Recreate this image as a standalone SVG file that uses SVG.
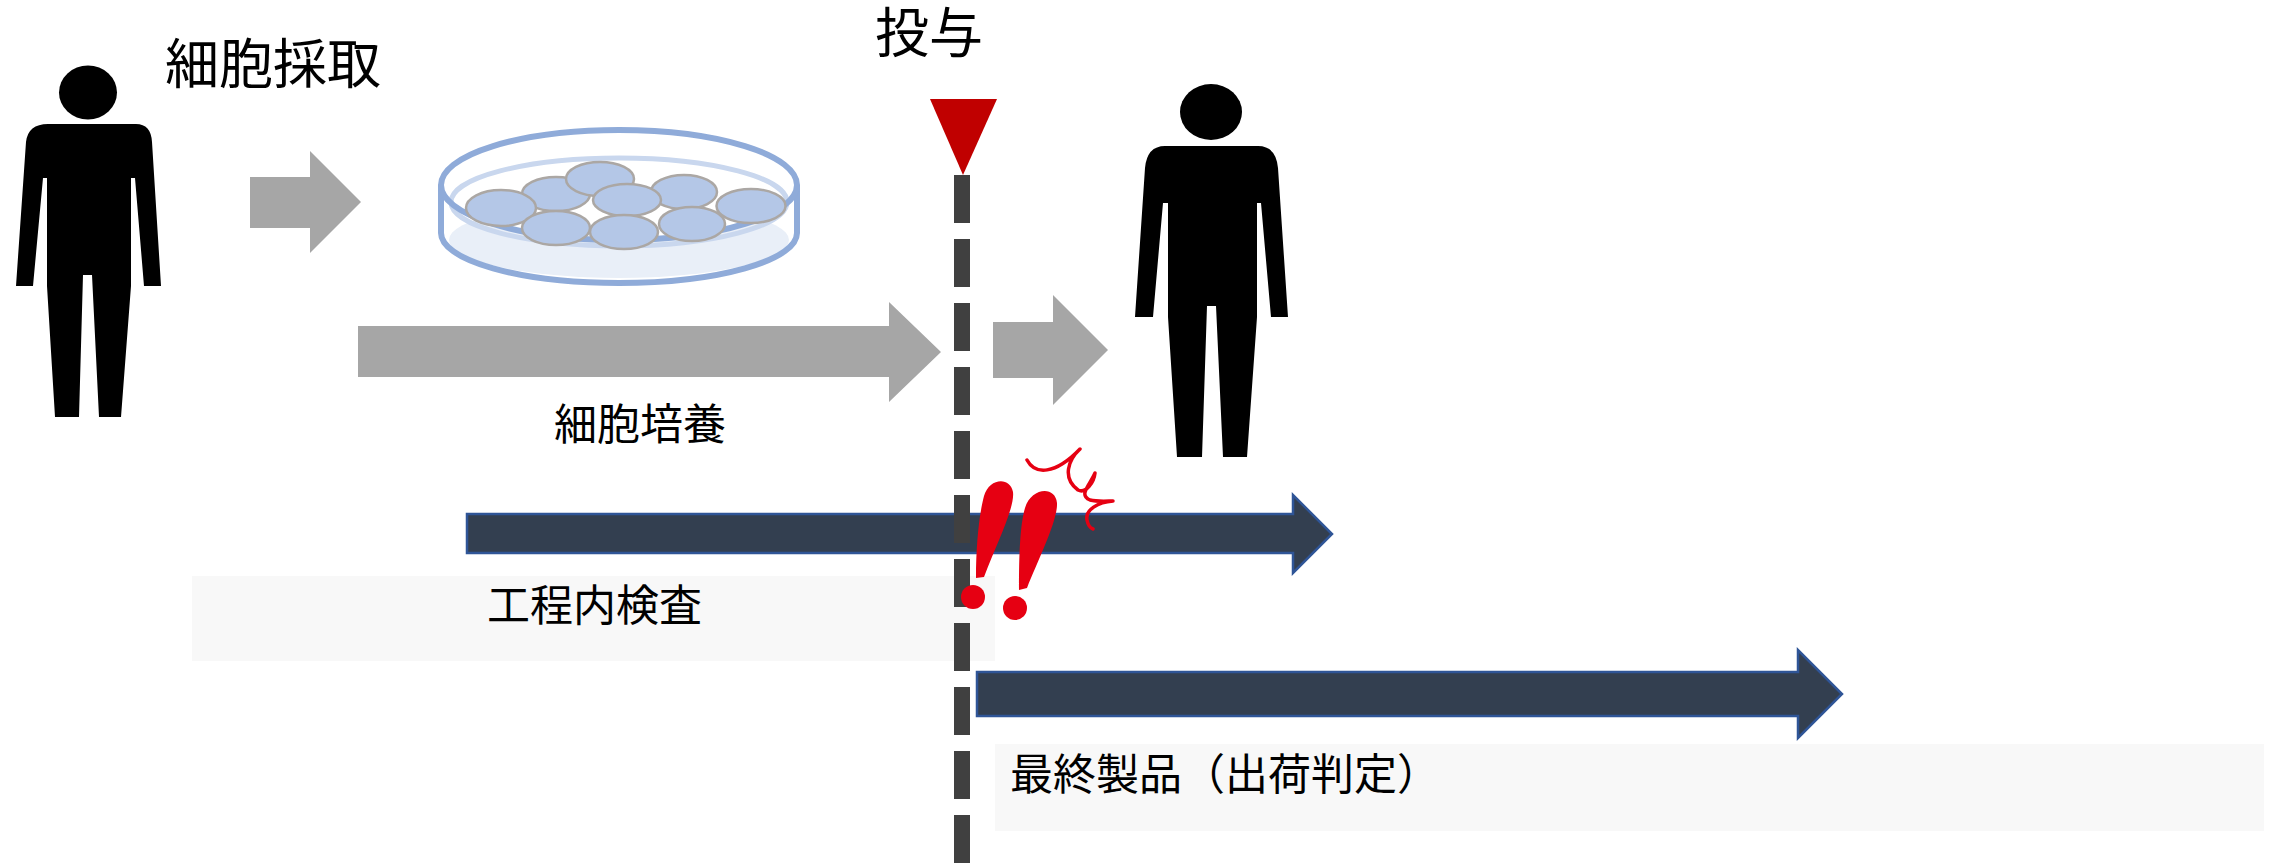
<svg xmlns="http://www.w3.org/2000/svg" width="2275" height="865" viewBox="0 0 2275 865">
  <style>
    .label { font-family: "Noto Sans CJK JP", "Noto Sans", sans-serif; fill: #000000; }
    .big { font-size: 54px; }
    .mid { font-size: 43px; }
    .person { fill: #000000; }
    .flow { fill: #A6A6A6; }
    .check { fill: #333F50; stroke: #2F5597; stroke-width: 2.5; stroke-linejoin: miter; }
    .panel { fill: #F8F8F8; }
    .rim { fill: none; stroke: #8FABD9; stroke-width: 6; }
    .cell { fill: #B4C7E7; stroke: #ABA7A4; stroke-width: 2.5; }
    .alert { fill: #E60012; }
  </style>

  <rect x="0" y="0" width="2275" height="865" fill="#FFFFFF"/>

  <!-- label panels -->
  <g id="inspection-label">
    <rect class="panel" x="192" y="576" width="803" height="85"/>
    <text class="label mid" x="487" y="621">工程内検査</text>
  </g>
  <g id="release-label">
    <rect class="panel" x="995" y="744" width="1269" height="87"/>
    <text class="label mid" x="1010" y="790">最終製品（出荷判定）</text>
  </g>

  <!-- donor -->
  <g id="donor">
    <ellipse class="person" cx="88" cy="92.5" rx="29" ry="27"/>
    <path class="person" d="M 48 124 L 136 124 Q 151 124 152 142 L 161 286 L 144 286 L 135 178 L 131 178 L 131 286 L 121 417 L 99 417 L 92 275 L 83 275 L 79 417 L 55 417 L 47 286 L 47 178 L 43 178 L 33 286 L 16 286 L 26 142 Q 28 124 48 124 Z"/>
  </g>
  <g id="collection-label">
    <text class="label big" x="165" y="84">細胞採取</text>
  </g>

  <!-- culture dish -->
  <g id="culture-dish">
    <ellipse cx="619" cy="240" rx="170" ry="38" fill="#E9EFF8"/>
    <ellipse cx="619" cy="185" rx="178" ry="55" fill="#FFFFFF"/>
    <ellipse cx="619" cy="202" rx="168" ry="44" fill="none" stroke="#C9D7EE" stroke-width="5"/>
    <path class="rim" d="M 441 185 L 441 233 A 178 50 0 0 0 797 233 L 797 185"/>
    <ellipse class="rim" cx="619" cy="185" rx="178" ry="55"/>
    <ellipse class="cell" cx="556" cy="194" rx="34" ry="17"/>
    <ellipse class="cell" cx="600" cy="179" rx="34" ry="17"/>
    <ellipse class="cell" cx="684" cy="192" rx="33" ry="17"/>
    <ellipse class="cell" cx="501" cy="208" rx="35" ry="18"/>
    <ellipse class="cell" cx="627" cy="200" rx="34" ry="16"/>
    <ellipse class="cell" cx="751" cy="206" rx="34.5" ry="17"/>
    <ellipse class="cell" cx="556" cy="228" rx="34" ry="17"/>
    <ellipse class="cell" cx="624" cy="232" rx="34" ry="17"/>
    <ellipse class="cell" cx="692" cy="224" rx="33" ry="17"/>
  </g>

  <g id="culture-label">
    <text class="label mid" x="554" y="440">細胞培養</text>
  </g>

  <!-- patient -->
  <g id="patient">
    <ellipse class="person" cx="1211" cy="112" rx="31" ry="28"/>
    <path class="person" d="M 1165 146 L 1258 146 Q 1276 146 1278 168 L 1288 317 L 1271 317 L 1261 203 L 1257 203 L 1257 317 L 1247 457 L 1223 457 L 1216 306 L 1207 306 L 1202 457 L 1177 457 L 1168 317 L 1168 203 L 1163 203 L 1153 317 L 1135 317 L 1145 168 Q 1147 146 1165 146 Z"/>
  </g>

  <!-- process arrows -->
  <g id="connectors">
    <path class="flow" d="M 250 177 L 310 177 L 310 151 L 361 202 L 310 253 L 310 228 L 250 228 Z"/>
    <path class="flow" d="M 358 326 L 889 326 L 889 302 L 941 352 L 889 402 L 889 377 L 358 377 Z"/>
    <path class="flow" d="M 993 322 L 1053 322 L 1053 295 L 1108 350 L 1053 405 L 1053 378 L 993 378 Z"/>
    <path class="check" d="M 467 514 L 1293 514 L 1293 495 L 1332 534 L 1293 573 L 1293 553 L 467 553 Z"/>
    <path class="check" d="M 977 672 L 1798 672 L 1798 650 L 1842 694 L 1798 738 L 1798 716 L 977 716 Z"/>
  </g>

  <!-- administration timing -->
  <g id="administration">
    <text class="label big" x="875" y="53">投与</text>
    <polygon points="930,99 997,99 963,175" fill="#C00000"/>
    <line x1="962" y1="175" x2="962" y2="865" stroke="#404040" stroke-width="16" stroke-dasharray="48 16"/>
  </g>

  <!-- warning mark -->
  <g id="alert-mark">
    <path class="alert" d="M 976 578 C 976 545 979 515 984 496 C 989 478 1010 476 1013 492 C 1015 508 996 545 984 577 Z"/>
    <circle class="alert" cx="973" cy="597" r="12"/>
    <path class="alert" d="M 1019 590 C 1019 555 1020 525 1025 508 C 1031 488 1055 485 1057 503 C 1058 520 1038 560 1027 588 Z"/>
    <circle class="alert" cx="1015" cy="608" r="12"/>
    <path d="M 1027 460 C 1035 475 1055 475 1080 449 C 1068 460 1062 478 1078 490 C 1086 494 1094 482 1095 473 C 1090 485 1078 495 1090 500 C 1098 502 1108 501 1113 501 C 1098 502 1085 510 1087 520 C 1088 525 1090 528 1093 529" fill="none" stroke="#E60012" stroke-width="3.5" stroke-linecap="round" stroke-linejoin="round"/>
  </g>
</svg>
